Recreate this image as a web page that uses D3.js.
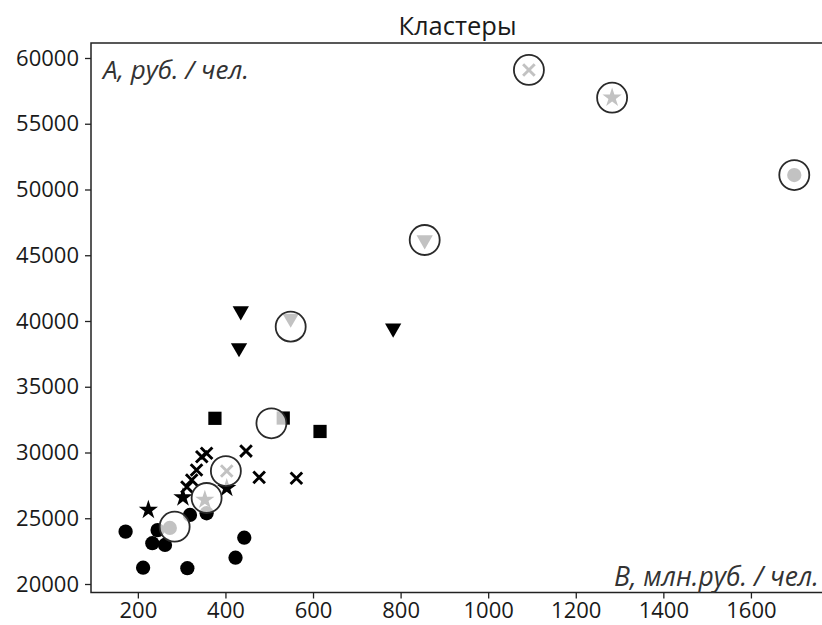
<!DOCTYPE html>
<html><head><meta charset="utf-8">
<script src="https://cdn.jsdelivr.net/npm/d3@7"></script>
<style>
body{margin:0;background:#fff;}
svg{display:block;}
</style></head>
<body>
<svg id="chart" width="822" height="625"></svg>
<script>
// ---- data ----
const title = "Кластеры";
const yLabel = "А, руб. / чел.";
const xLabel = "В, млн.руб. / чел.";
const xTicks = [200, 400, 600, 800, 1000, 1200, 1400, 1600];
const yTicks = [20000, 25000, 30000, 35000, 40000, 45000, 50000, 55000, 60000];

const pointsCircle = [[172,23980],[212,21240],[313,21200],[423,22000],[443,23520],[245,24100],[233,23100],[262,22970],[273,24260],[319,25250],[357,25380],[1699,51100]];
const pointsStar = [[224,25630],[303,26580],[403,27300],[353,26400],[1283,56980]];
const pointsCross = [[357,29940],[346,29680],[334,28670],[323,27910],[312,27380],[447,30110],[477,28110],[562,28040],[403,28590],[1093,59090]];
const pointsSquare = [[376,32600],[532,32620],[616,31600]];
const pointsTriangle = [[435,40760],[431,37950],[783,39450],[549,40200],[855,46160]];
const centroids = [[1093,59090],[1283,56980],[1699,51100],[855,46160],[549,39570],[505,32220],[401,28590],[357,26540],[284,24360]];

// ---- layout ----
const svg = d3.select("#chart");
const L = 91, R = 828, T = 43, B = 592.5;
const x = d3.scaleLinear().domain([93, 1776]).range([L, R]);
const y = d3.scaleLinear().domain([19354, 61140]).range([B, T]);
const font = "Open Sans";

// points
const g = svg.append("g");
function drawSym(data, type, size, rot) {
  g.selectAll(null).data(data).enter().append("path")
    .attr("d", d3.symbol().type(type).size(size)())
    .attr("transform", d => `translate(${x(d[0])},${y(d[1])}) rotate(${rot||0})`)
    .attr("fill", "#000");
}
drawSym(pointsCircle, d3.symbolCircle, 160);
drawSym(pointsSquare, d3.symbolSquare, 175);
drawSym(pointsTriangle, d3.symbolTriangle, 115, 180);
drawSym(pointsStar, d3.symbolStar, 115);
const cr = 5.8;
g.selectAll(null).data(pointsCross).enter().append("path")
  .attr("d", `M${-cr},${-cr}L${cr},${cr}M${-cr},${cr}L${cr},${-cr}`)
  .attr("transform", d => `translate(${x(d[0])},${y(d[1])})`)
  .attr("stroke", "#000").attr("stroke-width", 2.9).attr("fill", "none");

// centroids
g.selectAll(null).data(centroids).enter().append("circle")
  .attr("cx", d => x(d[0])).attr("cy", d => y(d[1])).attr("r", 15)
  .attr("fill", "rgba(255,255,255,0.76)")
  .attr("stroke", "#2a2a2a").attr("stroke-width", 1.8);

// frame
svg.append("rect").attr("x", L).attr("y", T).attr("width", R - L).attr("height", B - T)
  .attr("fill", "none").attr("stroke", "#222").attr("stroke-width", 1.5);

// axes
const xa = svg.append("g").attr("transform", `translate(0,${B})`)
  .call(d3.axisBottom(x).tickValues(xTicks).tickSize(6).tickPadding(4).tickFormat(d3.format("d")));
const ya = svg.append("g").attr("transform", `translate(${L},0)`)
  .call(d3.axisLeft(y).tickValues(yTicks).tickSize(6).tickPadding(6).tickFormat(d3.format("d")));
[xa, ya].forEach(a => {
  a.select(".domain").remove();
  a.selectAll("line").attr("stroke", "#222").attr("stroke-width", 1.3);
  a.selectAll("text").attr("font-family", font).attr("font-size", 22).attr("fill", "#1a1a1a");
});

// texts
svg.append("text").attr("x", (L + R) / 2 - 2).attr("y", 35).attr("text-anchor", "middle")
  .attr("font-family", font).attr("font-size", 25.5).attr("fill", "#1a1a1a").text(title);
svg.append("text").attr("x", 103).attr("y", 79)
  .attr("font-family", font).attr("font-style", "italic").attr("font-size", 26).attr("fill", "#333").text(yLabel);
svg.append("text").attr("x", 819).attr("y", 586).attr("text-anchor", "end")
  .attr("font-family", font).attr("font-style", "italic").attr("font-size", 26.5).attr("fill", "#333").text(xLabel);
</script>
</body></html>
